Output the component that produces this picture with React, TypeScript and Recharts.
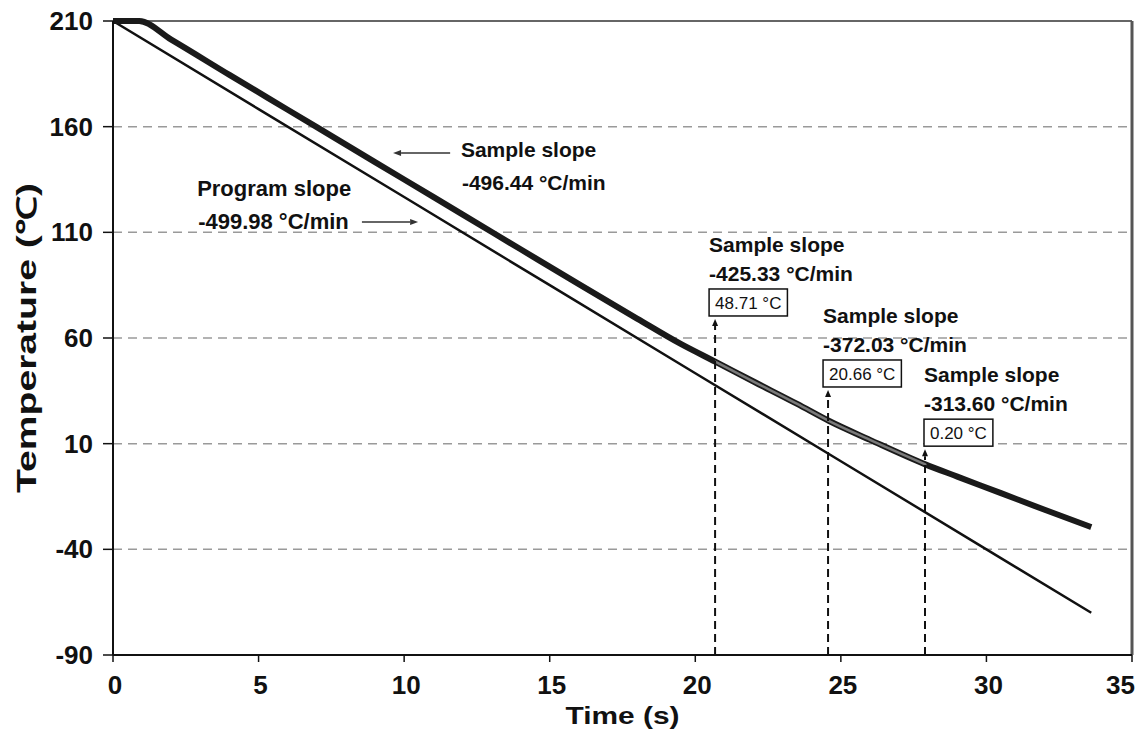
import {
  CartesianGrid,
  Label,
  Line,
  LineChart,
  ReferenceLine,
  XAxis,
  YAxis,
} from "recharts";

const FONT = '"Liberation Sans", Arial, Helvetica, sans-serif';
const INK = "#111";

// axes
const timeTicks = [0, 5, 10, 15, 20, 25, 30, 35];
const tempTicks = [-90, -40, 10, 60, 110, 160, 210];

// programmed cooling ramp
const programTime = [0, 5, 10, 15, 20, 25, 30, 33.6];
const programTemp = [210, 168.3, 126.7, 85, 43.3, 1.7, -40, -70];

// measured sample temperature
const sampleTime = [
  0, 0.9, 2, 4, 6, 8, 10, 12, 14, 16, 18, 19.5, 20.7, 22, 23.5, 24.6, 26, 27.9,
  29, 30.5, 32, 33.6,
];
const sampleTemp = [
  210, 210, 201.2, 184.5, 168, 151.5, 135, 118.5, 102, 85.5, 69.2, 57.2, 48.7,
  39.4, 28.8, 20.7, 11.8, 0.2, -5.6, -13.4, -21.3, -29.5,
];

// marked points on the sample curve
const markTime = [20.68, 24.56, 27.89];
const markTemp = [48.71, 20.66, 0.2];
const markSlope = ["-425.33", "-372.03", "-313.60"];

// overall slopes
const sampleSlope = "-496.44";
const programSlope = "-499.98";

// annotation layout (data coords)
const markArrowTop = [69, 35.4, 7.4];
const markBoxShift = [6, 5, 1];

const programData = programTime.map((t, i) => ({ t, temp: programTemp[i] }));
const sampleData = sampleTime.map((t, i) => ({ t, temp: sampleTemp[i] }));
const sampleMid = sampleData.filter((d) => d.t >= 20.5 && d.t <= 28);

const CHAR_W: Record<string, number> = {
  ".": 0.278,
  " ": 0.278,
  "°": 0.4,
  C: 0.722,
  "-": 0.333,
};
const textWidth = (s: string, size: number) =>
  s.split("").reduce((a, c) => a + (CHAR_W[c] ?? 0.556), 0) * size;

function arrowHead(x1: number, y1: number, x2: number, y2: number, len = 8, half = 3.5) {
  const d = Math.hypot(x2 - x1, y2 - y1) || 1;
  const ux = (x2 - x1) / d;
  const uy = (y2 - y1) / d;
  const bx = x2 - ux * len;
  const by = y2 - uy * len;
  return {
    bx,
    by,
    points: `${x2},${y2} ${bx - uy * half},${by + ux * half} ${bx + uy * half},${by - ux * half}`,
  };
}

const pointer = (p: any) => {
  const { x1, y1, x2, y2 } = p;
  const h = arrowHead(x1, y1, x2, y2, 8, 3);
  return (
    <g>
      <line x1={x1} y1={y1} x2={h.bx} y2={h.by} stroke="#333" strokeWidth={1.5} />
      <polygon points={h.points} fill="#333" />
    </g>
  );
};

const markShape = (i: number) => (p: any) => {
  const { x1, y1, x2, y2 } = p;
  const h = arrowHead(x1, y1, x2, y2, 7, 3);
  const label = `${markTemp[i].toFixed(2)} °C`;
  const bw = textWidth(label, 17) + 12;
  const bx = x2 - markBoxShift[i];
  const by = y2 - 30;
  return (
    <g fontFamily={FONT} fill={INK}>
      <line
        x1={x1}
        y1={y1}
        x2={h.bx}
        y2={h.by}
        stroke={INK}
        strokeWidth={2}
        strokeDasharray="8 5"
      />
      <polygon points={h.points} fill={INK} />
      <text x={bx} y={by - 37} fontSize={21} fontWeight={700}>
        Sample slope
      </text>
      <text x={bx} y={by - 8} fontSize={21} fontWeight={700}>
        {markSlope[i]} °C/min
      </text>
      <rect x={bx} y={by} width={bw} height={27} fill="#fff" stroke={INK} strokeWidth={1.5} />
      <text x={bx + 6} y={by + 20} fontSize={17}>
        {label}
      </text>
    </g>
  );
};

const noteShape = (title: string, value: string, size: number, gap: number) => (p: any) => {
  const { x1, y1 } = p;
  return (
    <g fontFamily={FONT} fontWeight={700} fontSize={size} fill={INK}>
      <text x={x1} y={y1}>{title}</text>
      <text x={x1 + 1} y={y1 + gap}>{value}</text>
    </g>
  );
};

function XTick({ x, y, payload }: any) {
  const last = payload.value === timeTicks[timeTicks.length - 1];
  return (
    <text
      x={last ? x + 3 : x + 2}
      y={y + 19}
      textAnchor={last ? "end" : "middle"}
      fontFamily={FONT}
      fontWeight={700}
      fontSize={26}
      fill={INK}
    >
      {payload.value}
    </text>
  );
}

function YTick({ x, y, payload }: any) {
  return (
    <text x={x} y={y + 9} textAnchor="end" fontFamily={FONT} fontWeight={700} fontSize={26} fill={INK}>
      {payload.value}
    </text>
  );
}

export default function App() {
  return (
    <div style={{ position: "absolute", left: 0, top: 0, background: "#fff" }}>
      <LineChart width={1138} height={731} margin={{ top: 21, right: 6, bottom: 0, left: 0 }}>
        <CartesianGrid vertical={false} stroke="#9a9a9a" strokeWidth={1.5} strokeDasharray="9 6" />
        <XAxis
          dataKey="t"
          type="number"
          domain={[0, 35]}
          ticks={timeTicks}
          height={76}
          axisLine={{ stroke: INK, strokeWidth: 2 }}
          tickLine={{ stroke: INK, strokeWidth: 1.5 }}
          tickSize={7}
          tickMargin={13}
          tick={<XTick />}
          interval={0}
        >
          <Label
            content={({ viewBox }: any) => (
              <text
                x={viewBox.x + viewBox.width / 2}
                y={viewBox.y + 69}
                textAnchor="middle"
                fontFamily={FONT}
                fontWeight={700}
                fontSize={24}
                textLength={114}
                lengthAdjust="spacingAndGlyphs"
                fill={INK}
              >
                Time (s)
              </text>
            )}
          />
        </XAxis>
        <YAxis
          dataKey="temp"
          type="number"
          domain={[-90, 210]}
          ticks={tempTicks}
          width={113}
          axisLine={{ stroke: INK, strokeWidth: 2 }}
          tickLine={{ stroke: INK, strokeWidth: 1.5 }}
          tickSize={10}
          tickMargin={10}
          tick={<YTick />}
          interval={0}
        >
          <Label
            content={({ viewBox }: any) => {
              const cx = viewBox.x + 27;
              const cy = viewBox.y + viewBox.height / 2;
              return (
                <text
                  x={cx}
                  y={cy}
                  transform={`rotate(-90 ${cx} ${cy})`}
                  textAnchor="middle"
                  dominantBaseline="central"
                  fontFamily={FONT}
                  fontWeight={700}
                  fontSize={27}
                  textLength={310}
                  lengthAdjust="spacingAndGlyphs"
                  fill={INK}
                >
                  Temperature (℃)
                </text>
              );
            }}
          />
        </YAxis>
        <ReferenceLine y={210} stroke="#666" strokeWidth={2} />
        <ReferenceLine x={35} stroke="#555" strokeWidth={3} />
        <Line
          data={programData}
          dataKey="temp"
          type="linear"
          stroke={INK}
          strokeWidth={2.5}
          dot={false}
          isAnimationActive={false}
        />
        <Line
          data={sampleData}
          dataKey="temp"
          type="monotone"
          stroke="#1a1a1a"
          strokeWidth={6}
          dot={false}
          isAnimationActive={false}
        />
        <Line
          data={sampleMid}
          dataKey="temp"
          type="monotone"
          stroke="#7a7a7a"
          strokeWidth={2.5}
          strokeLinecap="round"
          dot={false}
          isAnimationActive={false}
        />
        <ReferenceLine
          segment={[{ x: 11.58, y: 147.5 }, { x: 9.62, y: 147.5 }]}
          shape={pointer}
          ifOverflow="visible"
        />
        <ReferenceLine
          segment={[{ x: 8.55, y: 114.9 }, { x: 10.48, y: 114.9 }]}
          shape={pointer}
          ifOverflow="visible"
        />
        <ReferenceLine
          segment={[{ x: 11.95, y: 145.5 }, { x: 11.95, y: 145.5 }]}
          shape={noteShape("Sample slope", `${sampleSlope} °C/min`, 21, 33)}
          ifOverflow="visible"
        />
        <ReferenceLine
          segment={[{ x: 2.89, y: 127 }, { x: 2.89, y: 127 }]}
          shape={noteShape("Program slope", `${programSlope} °C/min`, 22, 33)}
          ifOverflow="visible"
        />
        {markTime.map((t, i) => (
          <ReferenceLine
            key={t}
            segment={[{ x: t, y: -90 }, { x: t, y: markArrowTop[i] }]}
            shape={markShape(i)}
            ifOverflow="visible"
          />
        ))}
      </LineChart>
    </div>
  );
}
